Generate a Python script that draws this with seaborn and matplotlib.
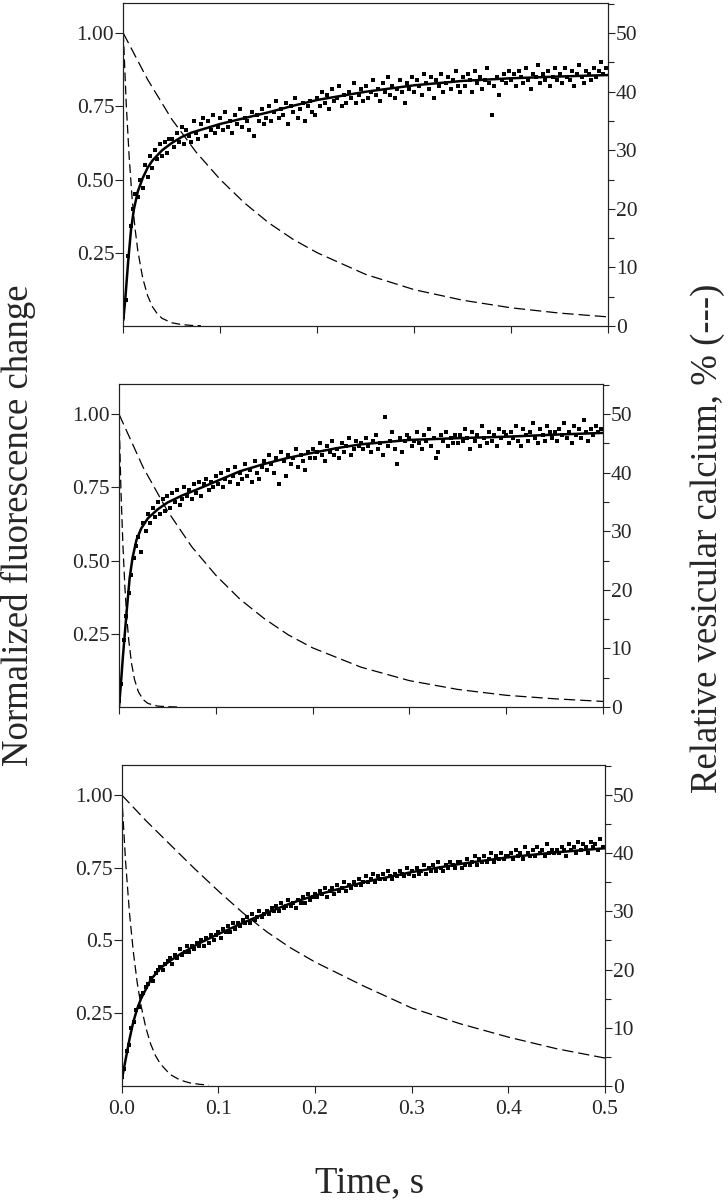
import numpy as np
import matplotlib
matplotlib.use('Agg')
import matplotlib.pyplot as plt
from matplotlib.ticker import MultipleLocator
import seaborn as sns

# sampled traces: one point every 2.5 ms, values in % of normalized change
t_step = 0.0025

trace_a = [3, 9, 24, 34, 40, 45, 44, 50, 47, 55, 51, 58, 54, 60, 57, 62, 58, 63, 59, 64,
           64, 61, 66, 63, 68, 62, 67, 65, 63, 70, 66, 64, 69, 71, 65, 70, 67, 72, 66, 68,
           71, 67, 73, 68, 70, 66, 72, 69, 74, 68, 71, 70, 67, 73, 65, 72, 70, 74, 69, 71,
           75, 70, 73, 77, 71, 74, 72, 76, 69, 75, 73, 78, 71, 74, 76, 70, 75, 77, 73, 72,
           78, 75, 80, 76, 79, 74, 81, 77, 78, 82, 75, 79, 76, 80, 78, 83, 76, 79, 81, 77,
           82, 78, 80, 84, 79, 81, 77, 83, 80, 85, 79, 82, 78, 81, 84, 80, 76, 83, 81, 85,
           80, 84, 82, 79, 86, 83, 81, 85, 78, 84, 82, 86, 80, 83, 85, 81, 84, 87, 82, 80,
           85, 82, 86, 84, 80, 87, 83, 85, 81, 84, 88, 83, 72, 82, 85, 79, 84, 86, 83, 87,
           84, 86, 82, 87, 85, 83, 88, 84, 81, 86, 85, 89, 83, 86, 84, 87, 82, 85, 88, 84,
           86, 83, 88, 85, 84, 87, 82, 86, 89, 85, 83, 87, 86, 84, 88, 85, 87, 90, 86, 88]

trace_b = [2, 8, 23, 31, 39, 45, 51, 55, 58, 53, 63, 60, 66, 63, 68, 65, 70, 66, 71, 67,
           72, 68, 73, 70, 74, 69, 71, 75, 72, 74, 71, 76, 73, 77, 72, 76, 78, 74, 77, 75,
           79, 76, 80, 75, 78, 81, 77, 79, 82, 76, 80, 78, 83, 79, 81, 77, 84, 80, 78, 82,
           84, 81, 86, 83, 80, 85, 76, 87, 84, 79, 86, 83, 85, 88, 82, 86, 84, 81, 87, 85,
           88, 85, 87, 90, 86, 84, 89, 87, 91, 86, 88, 85, 90, 87, 89, 92, 86, 88, 91, 89,
           90, 88, 92, 89, 87, 91, 93, 88, 90, 86, 99, 89, 91, 94, 88, 83, 92, 87, 91, 93,
           92, 89, 91, 94, 90, 88, 93, 91, 95, 89, 92, 85, 87, 93, 91, 94, 89, 92, 90, 93,
           90, 93, 91, 95, 92, 88, 94, 91, 93, 89, 96, 92, 90, 94, 91, 93, 89, 95, 92, 94,
           93, 90, 94, 92, 96, 91, 89, 95, 93, 91, 94, 97, 92, 90, 95, 93, 91, 96, 94, 92,
           94, 91, 95, 93, 97, 92, 94, 90, 96, 93, 95, 92, 98, 94, 91, 95, 93, 96, 94, 95]

trace_c = [3, 6, 12, 14, 20, 22, 26, 27, 31, 32, 34, 35, 37, 36, 39, 40, 41, 40, 42, 43,
           44, 42, 45, 44, 47, 45, 46, 48, 46, 48, 47, 49, 48, 50, 48, 51, 49, 52, 50, 52,
           53, 51, 54, 53, 55, 53, 56, 54, 56, 55, 57, 56, 58, 56, 59, 57, 58, 60, 58, 59,
           60, 59, 61, 60, 62, 60, 63, 61, 62, 64, 62, 63, 61, 64, 63, 65, 63, 66, 64, 65,
           66, 65, 67, 66, 68, 65, 67, 68, 66, 69, 67, 68, 70, 67, 69, 68, 70, 69, 71, 69,
           70, 72, 70, 71, 73, 70, 72, 71, 73, 71, 74, 72, 71, 73, 72, 74, 73, 72, 75, 73,
           74, 72, 75, 73, 74, 76, 73, 75, 74, 76, 74, 77, 75, 74, 76, 75, 77, 76, 75, 77,
           77, 75, 76, 78, 76, 77, 79, 76, 78, 77, 79, 77, 78, 80, 77, 79, 78, 80, 78, 79,
           79, 80, 78, 81, 79, 80, 78, 82, 80, 79, 81, 79, 82, 80, 81, 79, 83, 80, 81, 80,
           81, 80, 82, 81, 79, 83, 81, 82, 80, 84, 81, 83, 82, 80, 84, 82, 83, 81, 85, 82]

# fitted curves (normalized fluorescence)
fit_a_t = [0, 0.002, 0.005, 0.008, 0.011, 0.015, 0.02, 0.025, 0.03, 0.04, 0.05, 0.06, 0.07,
           0.085, 0.1, 0.125, 0.15, 0.175, 0.2, 0.25, 0.3, 0.35, 0.4, 0.45, 0.5]
fit_a = [0.02, 0.09, 0.22, 0.33, 0.40, 0.46, 0.505, 0.54, 0.565, 0.60, 0.625, 0.645, 0.66,
         0.675, 0.69, 0.71, 0.73, 0.752, 0.772, 0.80, 0.822, 0.837, 0.846, 0.852, 0.857]

fit_b_t = [0, 0.002, 0.004, 0.006, 0.008, 0.011, 0.014, 0.018, 0.023, 0.03, 0.04, 0.05, 0.065,
           0.08, 0.1, 0.125, 0.15, 0.175, 0.2, 0.225, 0.25, 0.3, 0.35, 0.4, 0.45, 0.5]
fit_b = [0.0, 0.08, 0.17, 0.25, 0.33, 0.44, 0.51, 0.57, 0.61, 0.645, 0.675, 0.698, 0.722,
         0.742, 0.77, 0.805, 0.83, 0.851, 0.868, 0.884, 0.897, 0.912, 0.918, 0.923, 0.93, 0.936]

fit_c_t = [0, 0.004, 0.008, 0.012, 0.016, 0.02, 0.03, 0.04, 0.05, 0.06, 0.08, 0.1, 0.125,
           0.15, 0.175, 0.2, 0.25, 0.3, 0.35, 0.4, 0.45, 0.5]
fit_c = [0.02, 0.09, 0.16, 0.22, 0.265, 0.30, 0.365, 0.405, 0.43, 0.452, 0.49, 0.522, 0.56,
         0.595, 0.628, 0.655, 0.70, 0.735, 0.763, 0.786, 0.803, 0.817]

# relative vesicular calcium, % (dashed): slow and fast pools
slow_t = [0, 0.025, 0.05, 0.075, 0.1, 0.125, 0.15, 0.175, 0.2, 0.25, 0.3, 0.35, 0.4, 0.45, 0.5]
slow_a = [50, 42.1, 35.3, 29.7, 25.0, 21.0, 17.6, 14.8, 12.5, 8.8, 6.2, 4.4, 3.1, 2.2, 1.55]
slow_b = [50, 40.9, 33.5, 27.4, 22.5, 18.4, 15.1, 12.3, 10.1, 6.8, 4.5, 3.0, 2.0, 1.4, 0.95]
slow_c = [50, 45.6, 41.5, 37.4, 33.5, 29.8, 26.5, 23.7, 21.3, 17.2, 13.4, 10.7, 8.4, 6.4, 4.8]

fast_a_t = [0, 0.003, 0.006, 0.009, 0.012, 0.015, 0.02, 0.025, 0.03, 0.035, 0.04, 0.05, 0.06, 0.07, 0.08]
fast_a = [50, 38, 29, 22, 16.8, 12.8, 8.2, 5.2, 3.3, 2.1, 1.3, 0.55, 0.25, 0.1, 0.05]
fast_b_t = [0, 0.002, 0.004, 0.006, 0.008, 0.01, 0.013, 0.016, 0.02, 0.025, 0.03, 0.04, 0.05, 0.06]
fast_b = [50, 37, 27.8, 20.7, 15.4, 11.5, 7.4, 4.7, 2.6, 1.25, 0.6, 0.15, 0.05, 0.0]
fast_c_t = [0, 0.004, 0.008, 0.012, 0.016, 0.02, 0.025, 0.03, 0.035, 0.04, 0.05, 0.06, 0.07, 0.08, 0.09]
fast_c = [50, 38.6, 29.8, 23.1, 17.8, 13.8, 10.0, 7.2, 5.2, 3.8, 2.0, 1.05, 0.55, 0.3, 0.15]

left_labels = [['0.25', '0.50', '0.75', '1.00'],
               ['0.25', '0.50', '0.75', '1.00'],
               ['0.25', '0.5', '0.75', '1.00']]
x_labels = ['0.0', '0.1', '0.2', '0.3', '0.4', '0.5']

sns.set_style('ticks')
plt.rcParams['font.family'] = ['Liberation Serif', 'DejaVu Serif']
plt.rcParams['axes.edgecolor'] = '#222222'
plt.rcParams['axes.linewidth'] = 0.8

fig = plt.figure(figsize=(7.28, 12), dpi=100)

# panel rectangles in pixels: left, right, top, bottom
boxes = [(123.3, 608.3, 3, 326), (119, 603, 384, 707), (121.7, 605, 765, 1086)]
panels = [(trace_a, fit_a_t, fit_a, slow_a, fast_a_t, fast_a),
          (trace_b, fit_b_t, fit_b, slow_b, fast_b_t, fast_b),
          (trace_c, fit_c_t, fit_c, slow_c, fast_c_t, fast_c)]

for i, (box, data) in enumerate(zip(boxes, panels)):
    l, r, tp, bt = box
    trace, ft, fy, slow, fst_t, fst = data
    ax = fig.add_axes([l / 728, 1 - bt / 1200, (r - l) / 728, (bt - tp) / 1200])
    times = np.arange(len(trace)) * t_step
    sns.scatterplot(x=times, y=np.array(trace) / 100, ax=ax, marker='s', s=9,
                    color='k', linewidth=0, zorder=2)
    sns.lineplot(x=ft, y=fy, ax=ax, color='k', lw=1.8, zorder=3)
    ax.set_xlim(0, 0.5)
    ax.set_ylim(0, 1.103)
    ax.set_xticks(np.arange(0, 0.51, 0.1))
    ax.set_yticks([0.25, 0.5, 0.75, 1.0])
    ax.set_yticklabels(left_labels[i])
    if i == 2:
        ax.set_xticklabels(x_labels)
    else:
        ax.set_xticklabels([])
    ax.set_xlabel('')
    ax.set_ylabel('')
    ax.tick_params(axis='y', length=6, width=0.8, pad=0.5, labelsize=15.5, color='#222222')
    ax.tick_params(axis='x', length=5, width=0.8, pad=5, labelsize=15.5, color='#222222')

    ax2 = ax.twinx()
    sns.lineplot(x=slow_t, y=slow, ax=ax2, color='k', lw=0.9, linestyle=(0, (9, 4)))
    sns.lineplot(x=fst_t, y=fst, ax=ax2, color='k', lw=0.9, linestyle=(0, (7, 3.5)))
    ax2.set_ylim(0, 55.15)
    ax2.set_xlim(0, 0.5)
    ax2.yaxis.set_major_locator(MultipleLocator(10))
    ax2.yaxis.set_minor_locator(MultipleLocator(5))
    ax2.set_ylabel('')
    ax2.tick_params(axis='y', which='major', length=5, width=0.8, pad=0.5, labelsize=15.5,
                    color='#222222')
    ax2.tick_params(axis='y', which='minor', length=4, width=0.8, color='#222222')
    for sp in ax2.spines.values():
        sp.set_linewidth(0.8)
        sp.set_color('#222222')

fig.text(0.025, 0.562, 'Normalized fluorescence change', rotation=90, ha='center',
         va='center', fontsize=26.5)
fig.text(0.972, 0.551, 'Relative vesicular calcium, % (---)', rotation=90, ha='center',
         va='center', fontsize=26.5)
fig.text(0.508, 0.0067, 'Time, s', ha='center', va='baseline', fontsize=26.5)

fig.savefig('out.png', dpi=100)
